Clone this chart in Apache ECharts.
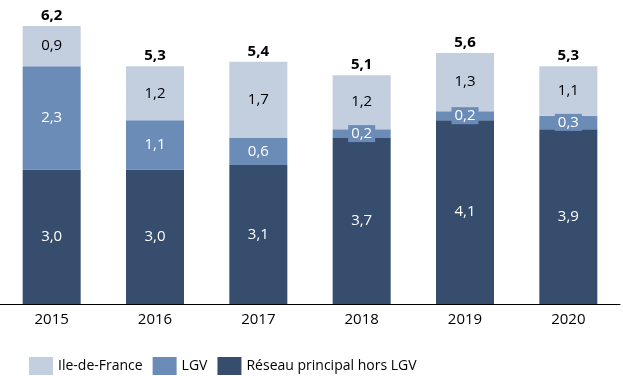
<!DOCTYPE html>
<html>
<head>
<meta charset="utf-8">
<script src="https://cdn.jsdelivr.net/npm/echarts@6/dist/echarts.min.js"></script>
<style>
  html, body { margin: 0; padding: 0; background: #fff; }
  #chart { width: 623px; height: 376px; }
</style>
</head>
<body>
<div id="chart"></div>
<script>
// années
var years = ['2015', '2016', '2017', '2018', '2019', '2020'];
// séries (empilées du bas vers le haut)
var reseauPrincipal = [3.0, 3.0, 3.1, 3.7, 4.1, 3.9];
var lgv = [2.3, 1.1, 0.6, 0.2, 0.2, 0.3];
var ileDeFrance = [0.9, 1.2, 1.7, 1.2, 1.3, 1.1];
// totaux affichés au-dessus
var totals = [6.2, 5.3, 5.4, 5.1, 5.6, 5.3];

var FONT = 'Open Sans';

function fr(v) {
    return Number(v).toFixed(1).replace('.', ',');
}

var myChart = echarts.init(document.getElementById('chart'));

var option = {
    animation: false,
    textStyle: { fontFamily: FONT },
    grid: { left: -3, right: 3, top: 26, bottom: 72 },
    legend: {
        left: 24,
        top: 352,
        itemWidth: 24,
        itemHeight: 18,
        itemGap: 10,
        icon: 'rect',
        data: ['Ile-de-France', 'LGV', 'Réseau principal hors LGV'],
        textStyle: { fontFamily: FONT, fontSize: 14, color: '#000' }
    },
    xAxis: {
        type: 'category',
        data: years,
        axisLine: { lineStyle: { color: '#000', width: 1 } },
        axisTick: { show: false },
        axisLabel: { color: '#000', fontSize: 15, fontFamily: FONT, margin: 8 }
    },
    yAxis: {
        type: 'value',
        min: 0,
        max: 6.2,
        show: false,
        splitLine: { show: false }
    },
    series: [
        {
            name: 'Réseau principal hors LGV',
            type: 'bar',
            stack: 'total',
            barWidth: 58,
            itemStyle: { color: '#374d6d' },
            label: {
                show: true,
                position: 'inside',
                color: '#fff',
                fontSize: 15,
                fontFamily: FONT,
                formatter: function (p) { return fr(p.value); }
            },
            data: reseauPrincipal
        },
        {
            name: 'LGV',
            type: 'bar',
            stack: 'total',
            barWidth: 58,
            itemStyle: { color: '#6c8cb8' },
            label: {
                show: true,
                position: 'inside',
                color: '#fff',
                fontSize: 15,
                fontFamily: FONT,
                backgroundColor: '#6c8cb8',
                padding: [1, 3],
                formatter: function (p) { return fr(p.value); }
            },
            data: lgv
        },
        {
            name: 'Ile-de-France',
            type: 'bar',
            stack: 'total',
            barWidth: 58,
            itemStyle: { color: '#c3cedf' },
            label: {
                show: true,
                position: 'inside',
                color: '#000',
                fontSize: 15,
                fontFamily: FONT,
                formatter: function (p) { return fr(p.value); }
            },
            data: ileDeFrance
        },
        {
            name: 'Total',
            type: 'bar',
            barWidth: 58,
            barGap: '-100%',
            silent: true,
            z: 1,
            itemStyle: { color: 'rgba(0,0,0,0)' },
            label: {
                show: true,
                position: 'top',
                distance: 3,
                color: '#000',
                fontWeight: 'bold',
                fontSize: 15,
                fontFamily: FONT,
                formatter: function (p) { return fr(p.value); }
            },
            data: totals
        }
    ]
};

myChart.setOption(option);
</script>
</body>
</html>
